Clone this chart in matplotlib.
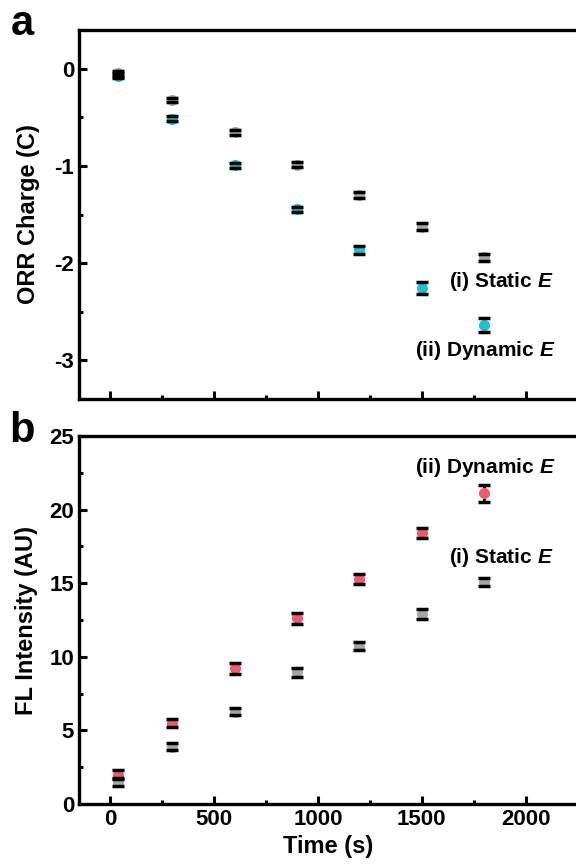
import numpy as np
import matplotlib.pyplot as plt
from matplotlib.ticker import MultipleLocator

plt.rcParams['font.family'] = ['Liberation Sans', 'DejaVu Sans']
plt.rcParams['font.weight'] = 'bold'
plt.rcParams['axes.labelweight'] = 'bold'
plt.rcParams['axes.unicode_minus'] = False
plt.rcParams['mathtext.fontset'] = 'custom'
plt.rcParams['mathtext.it'] = 'Liberation Sans:bold:italic'

# time points (s)
time = [40, 300, 600, 900, 1200, 1500, 1800]

# panel a: ORR charge (C)
orr_static = [-0.045, -0.32, -0.655, -0.985, -1.30, -1.625, -1.94]
orr_static_err = [0.025, 0.025, 0.025, 0.025, 0.03, 0.038, 0.036]
orr_dynamic = [-0.07, -0.515, -0.995, -1.448, -1.865, -2.258, -2.637]
orr_dynamic_err = [0.025, 0.025, 0.025, 0.025, 0.038, 0.059, 0.069]

# panel b: FL intensity (AU)
fl_static = [1.5, 3.9, 6.27, 8.94, 10.73, 12.89, 15.06]
fl_static_err = [0.25, 0.24, 0.22, 0.28, 0.29, 0.33, 0.28]
fl_dynamic = [2.0, 5.48, 9.22, 12.61, 15.29, 18.39, 21.1]
fl_dynamic_err = [0.28, 0.27, 0.38, 0.37, 0.33, 0.35, 0.55]

gray = '#a6a6a6'
cyan = '#19c3d0'
pink = '#f4596f'

fig = plt.figure(figsize=(5.76, 8.68), dpi=100)
ax1 = fig.add_axes([0.137, 0.5403, 0.866, 0.4251])
ax2 = fig.add_axes([0.137, 0.0737, 0.866, 0.424])


def draw(ax, y, err, color):
    ax.plot(time, y, 'o', color=color, markersize=8, markeredgewidth=0, zorder=3)
    eb = ax.errorbar(time, y, yerr=err, fmt='none', ecolor='black', elinewidth=2,
                     capsize=4.3, capthick=2.5)
    for c in eb[1]:
        c.set_zorder(4)
    for b in eb[2]:
        b.set_zorder(2)


draw(ax1, orr_dynamic, orr_dynamic_err, cyan)
draw(ax1, orr_static, orr_static_err, gray)
draw(ax2, fl_static, fl_static_err, gray)
draw(ax2, fl_dynamic, fl_dynamic_err, pink)

for ax in (ax1, ax2):
    ax.set_xlim(-150, 2250)
    ax.xaxis.set_major_locator(MultipleLocator(500))
    ax.xaxis.set_minor_locator(MultipleLocator(250))
    ax.tick_params(which='both', direction='in', top=False, right=False,
                   width=2.2, labelsize=16)
    ax.tick_params(which='major', length=6)
    ax.tick_params(which='minor', length=3)
    for s in ax.spines.values():
        s.set_linewidth(2.4)

ax1.set_ylim(-3.4, 0.4)
ax1.yaxis.set_major_locator(MultipleLocator(1))
ax1.yaxis.set_minor_locator(MultipleLocator(0.5))
ax1.set_xticklabels([])
ax1.set_ylabel('ORR Charge (C)', fontsize=17, labelpad=10)

ax2.set_ylim(0, 25)
ax2.yaxis.set_major_locator(MultipleLocator(5))
ax2.yaxis.set_minor_locator(MultipleLocator(2.5))
ax2.set_ylabel('FL Intensity (AU)', fontsize=17, labelpad=8)
ax2.set_xlabel('Time (s)', fontsize=17)

ax1.text(1880, -2.19, '(i) Static $E$', ha='center', va='center', fontsize=15)
ax1.text(1805, -2.905, '(ii) Dynamic $E$', ha='center', va='center', fontsize=15)
ax2.text(1805, 22.85, '(ii) Dynamic $E$', ha='center', va='center', fontsize=15)
ax2.text(1880, 16.73, '(i) Static $E$', ha='center', va='center', fontsize=15)

fig.text(0.038, 0.972, 'a', fontsize=30, ha='center', va='center')
fig.text(0.038, 0.504, 'b', fontsize=30, ha='center', va='center')

fig.savefig('out.png', dpi=100)
